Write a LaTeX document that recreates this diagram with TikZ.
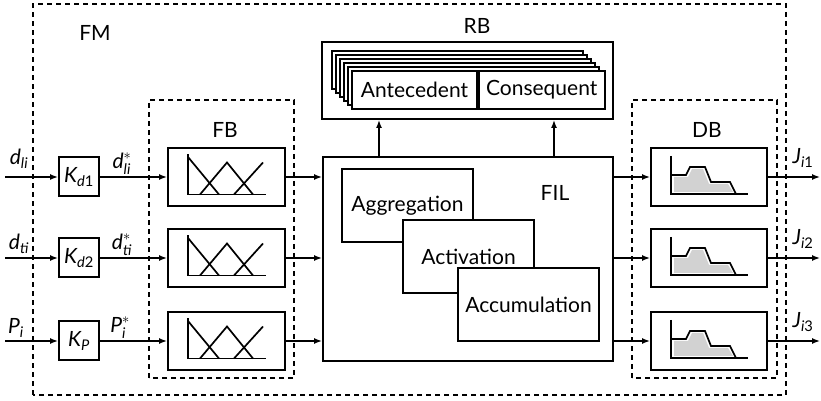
\documentclass[tikz,border=0pt]{standalone}
\usepackage{amsmath}
\usepackage{fontspec}
\setmainfont{Lato}
\usetikzlibrary{arrows.meta}

\begin{document}
\begin{tikzpicture}[x=1pt,y=1pt,
    every node/.style={font=\fontsize{21}{25}\selectfont},
    blk/.style={draw, line width=2pt, fill=white, inner sep=0pt},
    frame/.style={draw, line width=1.4pt, dash pattern=on 5pt off 4pt},
    arr/.style={-{Latex[length=8pt,width=6pt]}, line width=1.4pt},
    lbl/.style={anchor=base, inner sep=0pt}]
    \useasboundingbox (0,0) rectangle (821,401);
    % dashed frames
    \draw[frame] (33,6) rectangle (786,397);
    \draw[frame] (149,23) rectangle (294,301);
    \draw[frame] (632,23) rectangle (777,301);
    \node (fmlbl) at (95,368) {FM};
    \node (fblbl) at (225,271) {FB};
    \node (dblbl) at (707,271) {DB};
    \node (rblbl) at (477,375) {RB};
    % rule base
    \node[blk, minimum width=291pt, minimum height=77pt] (rb) at (467.5,320.5) {};
    \foreach \i in {5,4,...,1} {
        \draw[line width=1.7pt, fill=white] (352-4*\i,292+4*\i) rectangle (603-4*\i,330+4*\i);
    }
    \node[blk, line width=1.7pt, minimum width=125pt, minimum height=38pt] (ant) at (414.5,311) {Antecedent};
    \node[blk, line width=1.7pt, minimum width=126pt, minimum height=38pt, anchor=west] (con) at (ant.east) {Consequent};
    % inference
    \node[blk, minimum width=290pt, minimum height=204pt] (fil) at (468,142) {};
    \node (fillbl) at (555,208) {FIL};
    \node[blk, minimum width=131pt, minimum height=73pt] (agg) at (407.5,195.5) {Aggregation};
    \node[blk, minimum width=131pt, minimum height=73pt] (act) at (468.5,144.5) {Activation};
    \node[blk, minimum width=141pt, minimum height=73pt] (acc) at (528.5,96.5) {Accumulation};
    \draw[arr] ([xshift=57pt]fil.north west) -- ([xshift=57pt]fil.north west |- rb.south);
    \draw[arr] ([xshift=232pt]fil.north west) -- ([xshift=232pt]fil.north west |- rb.south);
    % three channels
    \foreach \r/\n/\g in {224/1/{\textit{d}\textnormal{1}},143/2/{\textit{d}\textnormal{2}},60/3/{\textit{P}}} {
        \coordinate (in\n) at (5,\r);
        \coordinate (out\n) at (820,\r);
        \node[blk, minimum width=40pt, minimum height=39pt] (k\n) at (79,\r) {$\textit{K}_{\g}$};
        \node[blk, minimum width=117pt, minimum height=58pt] (fb\n) at (226.5,\r) {};
        \node[blk, minimum width=116pt, minimum height=58pt] (db\n) at (709,\r) {};
        \begin{scope}[shift={(fb\n.center)}, line width=1.7pt]
            \draw (-38.5,22.5) -- (-38.5,-17.5) -- (39.5,-17.5);
            \draw (-38.5,20) -- (-7.5,-17.5);
            \draw (-26.5,-17.5) -- (0.5,14.5) -- (26.5,-17.5);
            \draw (7.5,-17.5) -- (36.5,14.5);
        \end{scope}
        \begin{scope}[shift={(db\n.center)}, line width=1.7pt]
            \fill[gray!35] (-35,-15) -- (-35,0) -- (-21,0) -- (-17,8) -- (-6,8) -- (0,-7) -- (19,-7) -- (24,-15) -- cycle;
            \draw (-38,21) -- (-38,-17) -- (39,-17);
            \draw (-38,2) -- (-23,2) -- (-19,10) -- (-4,10) -- (2,-5) -- (21,-5) -- (27,-17);
        \end{scope}
        \draw[arr] (in\n) -- (k\n);
        \draw[arr] (k\n) -- (fb\n);
        \draw[arr] (fb\n) -- (fil.west |- fb\n);
        \draw[arr] (fil.east |- db\n) -- (db\n);
        \draw[arr] (db\n) -- (out\n);
        \node[lbl] (jlbl\n) at (803,\r+13) {$\textit{J}_{\textit{i}\textnormal{\n}}$};
    }
    % signal labels
    \node[lbl] (dli) at (19,236) {$\textit{d}_{\textit{li}}$};
    \node[lbl] (dti) at (19,151) {$\textit{d}_{\textit{ti}}$};
    \node[lbl] (pin) at (16,67) {$\textit{P}_{\textit{i}}$};
    \node[lbl] (dlis) at (122,232) {$\textit{d}^{*}_{\textit{li}}$};
    \node[lbl] (dtis) at (122,151) {$\textit{d}^{*}_{\textit{ti}}$};
    \node[lbl] (pins) at (120,68) {$\textit{P}^{*}_{\textit{i}}$};
\end{tikzpicture}
\end{document}
